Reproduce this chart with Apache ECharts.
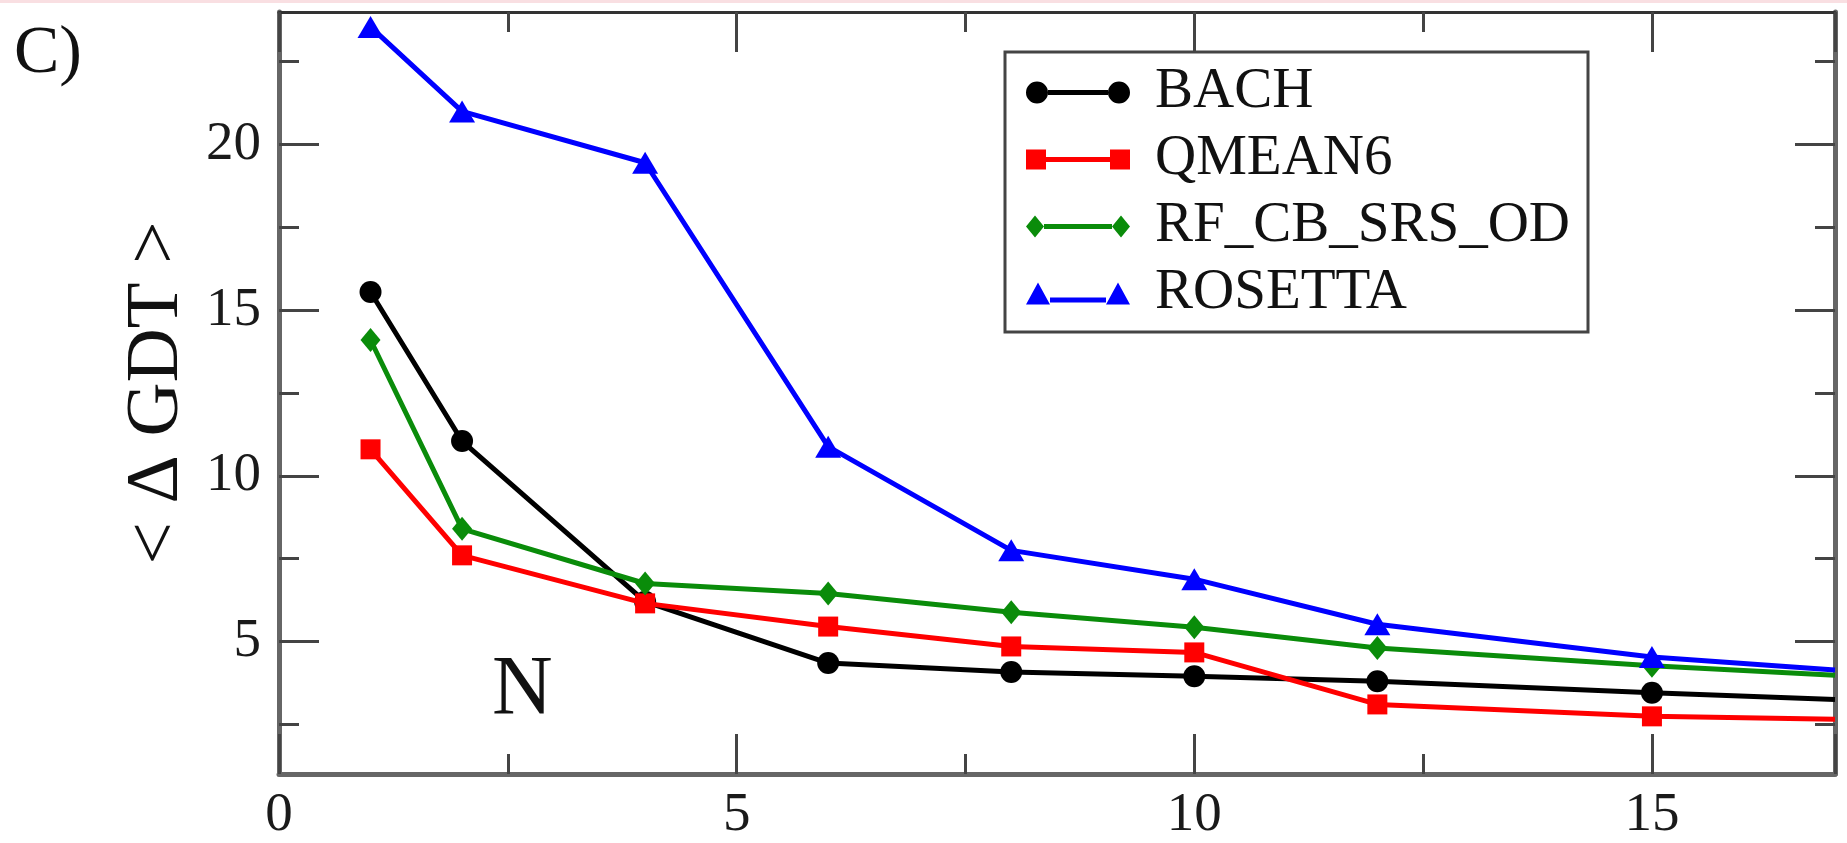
<!DOCTYPE html>
<html>
<head>
<meta charset="utf-8">
<script src="https://cdn.jsdelivr.net/npm/echarts@6/dist/echarts.min.js"></script>
<style>
html,body{margin:0;padding:0;background:#fff;}
#chart{width:1847px;height:843px;}
</style>
</head>
<body>
<div id="chart"></div>
<script>
// ---- data ----
var N = [1, 2, 4, 6, 8, 10, 12, 15, 17];
var bach    = [15.55, 11.05, 6.2, 4.35, 4.08, 3.95, 3.8, 3.45, 3.25];
var qmean6  = [10.8, 7.6, 6.15, 5.45, 4.85, 4.67, 3.1, 2.74, 2.65];
var rf      = [14.1, 8.4, 6.75, 6.45, 5.88, 5.43, 4.8, 4.27, 3.98];
var rosetta = [23.55, 21.0, 19.45, 10.88, 7.75, 6.88, 5.52, 4.53, 4.14];
var seriesNames = ['BACH', 'QMEAN6', 'RF_CB_SRS_OD', 'ROSETTA'];
var yMajorTicks = [5, 10, 15, 20];
var yMinorTicks = [2.5, 7.5, 12.5, 17.5, 22.5];
var xTickInterval = 5;
var panelLabel = 'C)';
var xLabelText = 'N';
var yLabelText = '< \u0394 GDT >';

var FONT = "'Liberation Serif', 'Times New Roman', serif";
var AXIS_COLOR = '#666';
var TICK_COLOR = '#444';

function pairs(ys) {
  return N.map(function (x, i) {
    var d = { value: [x, ys[i]] };
    if (i === N.length - 1) d.symbol = 'none';
    return d;
  });
}

var chart = echarts.init(document.getElementById('chart'), null, { renderer: 'canvas' });

var majorTick = { show: true, inside: true, length: 40, lineStyle: { color: TICK_COLOR, width: 3 } };
var minorTickStyle = { show: true, length: 20, splitNumber: 2, lineStyle: { color: TICK_COLOR, width: 3 } };

function xAx(pos, labels) {
  return {
    type: 'value', position: pos, min: 0, max: 17, interval: xTickInterval,
    axisLine: { show: true, onZero: false, lineStyle: { color: pos === 'top' ? '#333' : AXIS_COLOR, width: pos === 'top' ? 3 : 5 } },
    axisTick: majorTick,
    minorTick: minorTickStyle,
    splitLine: { show: false }, minorSplitLine: { show: false },
    axisLabel: labels ? { show: true, margin: 14, showMaxLabel: false, fontFamily: FONT, fontSize: 55, color: '#1a1a1a' } : { show: false }
  };
}
function yAx(pos, values, len, showLine, labels, extra) {
  var o = {
    type: 'value', position: pos, min: 1, max: 24,
    axisLine: { show: showLine, onZero: false, lineStyle: { color: AXIS_COLOR, width: 5 } },
    axisTick: { show: true, inside: true, length: len, customValues: values, lineStyle: { color: TICK_COLOR, width: 3 } },
    splitLine: { show: false },
    axisLabel: labels ? { show: true, margin: 18, customValues: values, fontFamily: FONT, fontSize: 55, color: '#1a1a1a' } : { show: false }
  };
  if (extra) for (var k in extra) o[k] = extra[k];
  return o;
}

var colors = ['#000000', '#ff0000', '#0a8c0a', '#0000ff'];
var lineWidth = 5;

var icons = [
  'path://M0,11a11,11 0 1,0 22,0a11,11 0 1,0 -22,0z M82,11a11,11 0 1,0 22,0a11,11 0 1,0 -22,0z M22,8.5h60v5h-60z',
  'path://M0,1h20v20h-20z M84,1h20v20h-20z M20,8.5h64v5h-64z',
  'path://M9,0L18,11L9,22L0,11z M95,0L104,11L95,22L86,11z M18,8.5h68v5h-68z',
  'path://M0,22L12,0L24,22z M80,22L92,0L104,22z M24,15h56v5h-56z'
];

var option = {
  backgroundColor: '#ffffff',
  animation: false,
  grid: { left: 279, right: 12, top: 12, bottom: 68, containLabel: false },
  xAxis: [xAx('bottom', true), xAx('top', false)],
  yAxis: [
    yAx('left', yMajorTicks, 40, true, true, {
      name: yLabelText, nameLocation: 'middle', nameRotate: 90, nameGap: 70,
      nameTextStyle: { fontFamily: FONT, fontSize: 75, color: '#111' }
    }),
    yAx('left', yMinorTicks, 20, false, false),
    yAx('right', yMajorTicks, 40, true, false),
    yAx('right', yMinorTicks, 20, false, false)
  ],
  legend: {
    orient: 'vertical',
    left: 1005, top: 52,
    data: seriesNames.map(function (n, i) { return { name: n, icon: icons[i] }; }),
    itemWidth: 104, itemHeight: 22, itemGap: 10,
    symbolKeepAspect: true,
    backgroundColor: '#fff',
    borderColor: '#444', borderWidth: 3, borderRadius: 0,
    padding: [12, 18, 10, 21],
    textStyle: { fontFamily: FONT, fontSize: 57, color: '#111', lineHeight: 56, padding: [0, 0, 0, 20] }
  },
  graphic: [
    { type: 'rect', left: 0, top: 0, shape: { width: 1847, height: 3 }, style: { fill: '#f9dfe2' }, silent: true },
    { type: 'text', left: 14, top: 20, style: { text: panelLabel, font: '68px ' + FONT, fill: '#111' } },
    { type: 'text', left: 492, top: 650, style: { text: xLabelText, font: '84px ' + FONT, fill: '#111' } }
  ],
  series: [
    { name: seriesNames[0], type: 'line', data: pairs(bach), symbol: 'circle', symbolSize: 22,
      itemStyle: { color: colors[0] }, lineStyle: { color: colors[0], width: lineWidth }, z: 4 },
    { name: seriesNames[1], type: 'line', data: pairs(qmean6), symbol: 'rect', symbolSize: 20,
      itemStyle: { color: colors[1] }, lineStyle: { color: colors[1], width: lineWidth }, z: 5 },
    { name: seriesNames[2], type: 'line', data: pairs(rf), symbol: 'diamond', symbolSize: [20, 24],
      itemStyle: { color: colors[2] }, lineStyle: { color: colors[2], width: lineWidth }, z: 6 },
    { name: seriesNames[3], type: 'line', data: pairs(rosetta), symbol: 'triangle', symbolSize: [26, 22],
      itemStyle: { color: colors[3] }, lineStyle: { color: colors[3], width: lineWidth }, z: 7 }
  ]
};
chart.setOption(option);
</script>
</body>
</html>
